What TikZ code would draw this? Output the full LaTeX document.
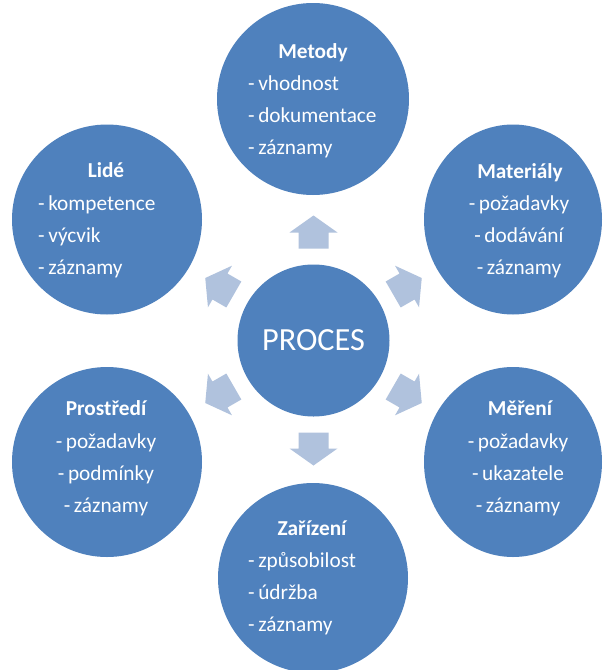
\documentclass[tikz,border=0pt]{standalone}
\usepackage{fontspec}
\setmainfont{Carlito}
\usetikzlibrary{shapes.geometric}
\definecolor{bubbleblue}{HTML}{4F81BD}
\definecolor{arrowblue}{HTML}{B0C2DD}
\newcommand\dashitem{-\,}
\begin{document}
\begin{tikzpicture}[x=1pt,y=-1pt,
  bubble/.style={circle, fill=bubbleblue, draw=none, inner sep=0pt, minimum size=190pt, text=white},
  oval/.style={ellipse, fill=bubbleblue, draw=none, inner sep=0pt, minimum width=178pt, minimum height=190pt},
  bodytext/.style={text=white, inner sep=0pt, font=\fontsize{21.3}{32.3}\selectfont},
  head/.style={bodytext, anchor=base, font=\fontsize{21.3}{32.3}\selectfont\bfseries},
  leftlist/.style={bodytext, anchor=base west},
  midlist/.style={bodytext, anchor=base},
  flowarrow/.pic={\fill[arrowblue] (92,-15) -- (108,-15) -- (108,-24) -- (125,0)
                   -- (108,24) -- (108,15) -- (92,15) -- cycle;}]
\useasboundingbox (0,0) rectangle (604,670);
\clip (0,0) rectangle (604,670);
\fill[white] (0,0) rectangle (604,670);

% central process
\node[bubble, minimum size=152pt, font=\fontsize{32.3}{38}\selectfont] (proc) at (313.5,340.5) {PROCES};

% arrows pointing outwards
\foreach \a in {30,90,150,210,270,330}
  \pic[rotate=\a] at (proc.center) {flowarrow};

% Metody
\node[bubble, minimum size=192pt] (metody) at (313,99) {};
\node[head] (metody-t) at (313,58) {Metody};
\node[leftlist] (metody-b) at (248,90) {\begin{tabular}[t]{@{}l@{}}
  \dashitem vhodnost\\ \dashitem dokumentace\\ \dashitem záznamy\end{tabular}};

% Lidé
\node[bubble] (lide) at (107,219.5) {};
\node[head] (lide-t) at (106,177) {Lidé};
\node[leftlist] (lide-b) at (38,210) {\begin{tabular}[t]{@{}l@{}}
  \dashitem kompetence\\ \dashitem výcvik\\ \dashitem záznamy\end{tabular}};

% Materiály
\node[oval] (mat) at (513,219.5) {};
\node[head] (mat-t) at (520,178) {Materiály};
\node[midlist] (mat-b) at (519,210) {\begin{tabular}[t]{@{}c@{}}
  \dashitem požadavky\\ \dashitem dodávání\\ \dashitem záznamy\end{tabular}};

% Prostředí
\node[bubble] (prost) at (107,462) {};
\node[head] (prost-t) at (106,415) {Prostředí};
\node[midlist] (prost-b) at (106,448) {\begin{tabular}[t]{@{}c@{}}
  \dashitem požadavky\\ \dashitem podmínky\\ \dashitem záznamy\end{tabular}};

% Měření
\node[oval] (mer) at (513,462) {};
\node[head] (mer-t) at (520,415) {Měření};
\node[midlist] (mer-b) at (518,448) {\begin{tabular}[t]{@{}c@{}}
  \dashitem požadavky\\ \dashitem ukazatele\\ \dashitem záznamy\end{tabular}};

% Zařízení
\node[bubble] (zar) at (313,578) {};
\node[head] (zar-t) at (312,535) {Zařízení};
\node[leftlist] (zar-b) at (248,567) {\begin{tabular}[t]{@{}l@{}}
  \dashitem způsobilost\\ \dashitem údržba\\ \dashitem záznamy\end{tabular}};
\end{tikzpicture}
\end{document}
